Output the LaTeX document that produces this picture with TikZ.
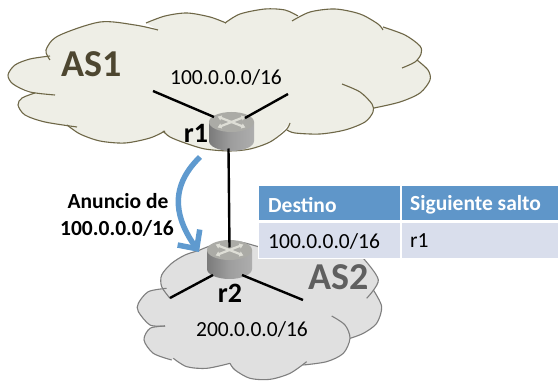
\documentclass[tikz,border=0pt]{standalone}
\usepackage{fontspec}
\setmainfont{Carlito}
\usetikzlibrary{arrows.meta}
\definecolor{cloudA}{HTML}{EEEEE6}
\definecolor{edgeA}{HTML}{6E6747}
\definecolor{textA}{HTML}{4D4630}
\definecolor{cloudB}{HTML}{E0E0E0}
\definecolor{edgeB}{HTML}{7F7F7F}
\definecolor{textB}{HTML}{5F5F5F}
\definecolor{headblue}{HTML}{5F96C9}
\definecolor{rowblue}{HTML}{D9DEEC}
\definecolor{arrowblue}{HTML}{5F9ACF}
\definecolor{routertop}{HTML}{ABABA6}
\definecolor{routerx}{HTML}{DEDED6}
\tikzset{
  lineA/.style={draw=edgeA,line width=1.1pt},
  lineB/.style={draw=edgeB,line width=1.1pt},
  link/.style={draw=black,line width=2.4pt},
  routerbox/.style={inner sep=0pt,minimum width=45pt,minimum height=39pt},
  txt/.style={font=\fontsize{21.5}{24}\selectfont,text=black,inner sep=0pt},
  rname/.style={font=\fontsize{28}{30}\selectfont\bfseries,text=black,inner sep=0pt},
  asname/.style={font=\fontsize{38}{40}\selectfont\bfseries,inner sep=0pt},
  headcell/.style={fill=headblue,draw=none},
  rowcell/.style={fill=rowblue,draw=none},
  headtxt/.style={font=\fontsize{21.5}{24}\selectfont\bfseries,text=white,inner sep=0pt,anchor=west},
  rowtxt/.style={font=\fontsize{21.5}{24}\selectfont,text=black,inner sep=0pt,anchor=west},
  anntxt/.style={font=\fontsize{21.5}{24}\selectfont\bfseries,text=black,inner sep=0pt}
}
\newcommand{\routerart}[1]{%
  \begin{scope}[shift={(#1.center)}]
    \path[left color=black!52,right color=black!32,middle color=black!38]
      (-22.5,-9.5) -- (-22.5,9.5) arc[start angle=180,end angle=0,x radius=22.5,y radius=10]
      -- (22.5,-9.5) -- cycle;
    \path[fill=routertop] (0,-9.5) ellipse[x radius=22.5,y radius=10];
    \draw[routerx,line width=2.2pt,{Latex[length=4pt,width=6pt]}-{Latex[length=4pt,width=6pt]}]
      (-14,-15) -- (14,-4);
    \draw[routerx,line width=2.2pt,{Latex[length=4pt,width=6pt]}-{Latex[length=4pt,width=6pt]}]
      (14,-15) -- (-14,-4);
  \end{scope}}
\begin{document}
\begin{tikzpicture}[x=1pt,y=-1pt]
\useasboundingbox (0,0) rectangle (558,382);
\fill[white] (0,0) rectangle (558,382);

% AS1 cloud
\fill[cloudA] plot[smooth] coordinates {(50,60)(46,50)(58,36)(100,22)(135,25)(158,30)}
 -- plot[smooth] coordinates {(146,23)(165,16)(187,13)(210,17)(226,23)}
 -- plot[smooth] coordinates {(225,23)(240,14)(265,9)(285,10)(298,16)}
 -- plot[smooth] coordinates {(292,21)(310,12)(335,9)(360,14)(378,24)(383,30)}
 -- plot[smooth] coordinates {(383,27)(405,35)(420,46)(421,54)(415,62)}
 -- plot[smooth] coordinates {(417,60)(428,70)(430,80)(420,93)(400,102)(374,108)}
 -- plot[smooth] coordinates {(373,112)(365,122)(345,130)(320,134)(295,133)(287,130)}
 -- plot[smooth] coordinates {(288,125)(270,142)(250,149)(230,151)(205,149)(185,143)(170,137)(163,131)}
 -- plot[smooth] coordinates {(165,131)(150,138)(125,143)(100,141)(80,134)(67,125)}
 -- plot[smooth] coordinates {(65,125)(45,122)(25,115)(18,105)(22,98)(35,93)}
 -- plot[smooth] coordinates {(33,92)(13,84)(8,75)(15,65)(30,59)(50,56)} -- cycle;
\foreach \lobe in {
 {(50,60)(46,50)(58,36)(100,22)(135,25)(158,30)},
 {(146,23)(165,16)(187,13)(210,17)(226,23)},
 {(225,23)(240,14)(265,9)(285,10)(298,16)},
 {(292,21)(310,12)(335,9)(360,14)(378,24)(383,30)},
 {(383,27)(405,35)(420,46)(421,54)(415,62)(402,68)},
 {(417,60)(428,70)(430,80)(420,93)(400,102)(374,108)},
 {(342,84)(360,92)(372,104)(373,112)(365,122)(345,130)(320,134)(295,133)(287,130)},
 {(290,123)(286,130)(270,142)(250,149)(230,151)(205,149)(185,143)(170,137)(163,131)},
 {(165,131)(150,138)(125,143)(100,141)(80,134)(67,125)},
 {(77,127)(45,122)(25,115)(18,105)(22,98)(35,93)},
 {(55,95)(30,92)(13,84)(8,75)(15,65)(30,59)(50,56)}}
 {\edef\tmp{\noexpand\draw[lineA] plot[smooth] coordinates {\lobe};}\tmp}

% AS2 cloud
\begin{scope}[shift={(130,190)},x=.33333pt,y=-.33333pt]
\fill[cloudB] plot[smooth] coordinates {(120,325)(95,290)(95,255)(125,220)(165,195)(205,182)}
 -- plot[smooth] coordinates {(205,182)(250,165)(320,155)(385,170)(450,190)(520,190)(600,195)(700,205)}
 -- plot[smooth] coordinates {(700,205)(745,270)(730,300)}
 -- plot[smooth] coordinates {(730,300)(755,350)(740,400)(700,430)(660,445)}
 -- plot[smooth] coordinates {(660,445)(640,490)(590,515)(520,525)}
 -- plot[smooth] coordinates {(530,515)(480,550)(420,568)(360,565)(315,540)(300,520)}
 -- plot[smooth] coordinates {(300,520)(230,535)(170,530)(130,505)}
 -- plot[smooth] coordinates {(125,510)(70,490)(42,450)(60,415)(105,408)}
 -- plot[smooth] coordinates {(105,408)(60,405)(25,365)(25,340)(55,305)(110,295)} -- cycle;
\foreach \lobe in {
 {(120,325)(95,290)(95,255)(125,220)(165,195)(205,182)},
 {(205,182)(250,165)(320,155)(385,170)(450,190)(520,190)(600,195)(700,205)},
 {(700,205)(745,270)(710,325)},
 {(730,300)(755,350)(740,400)(700,430)(660,445)},
 {(605,378)(645,405)(660,445)(640,490)(590,515)(520,525)},
 {(530,515)(480,550)(420,568)(360,565)(315,540)(300,520)},
 {(300,520)(230,535)(170,530)(130,505)},
 {(125,510)(70,490)(42,450)(60,415)(105,408)},
 {(105,408)(60,405)(25,365)(25,340)(55,305)(110,295)}}
 {\edef\tmp{\noexpand\draw[lineB] plot[smooth] coordinates {\lobe};}\tmp}
\end{scope}

% routers
\node[routerbox] (R1) at (231.5,131.5) {};
\node[routerbox] (R2) at (229.5,259.5) {};
\coordinate (a1) at (153,91);
\coordinate (a2) at (288,94);
\coordinate (b1) at (170,298);
\coordinate (b2) at (303,300);
\coordinate (R1w) at (214,117);
\coordinate (R1e) at (245,118);
\coordinate (R2w) at (213,275);
\coordinate (R2e) at (242,275);
\routerart{R1}
\routerart{R2}
\coordinate (R1s) at ([xshift=-3pt,yshift=-17pt]R1.center);
\coordinate (R2n) at ([yshift=12pt]R2.center);
\draw[link] (a1) -- (R1w);
\draw[link] (a2) -- (R1e);
\draw[link] (b1) -- (R2w);
\draw[link] (b2) -- (R2e);
\draw[link] (R1s) -- (R2n);

% announcement arrow
\coordinate (arrS) at (200,157);
\coordinate (arrE) at (199,252);
\draw[arrowblue,line width=5.5pt,-{Straight Barb[length=14pt,width=27pt,line width=5.5pt]}]
  (arrS) .. controls (166,190) and (178,222) .. (arrE);

% labels
\node[asname,text=textA] (as1) at (92,64) {AS1};
\node[asname,text=textB] (as2) at (339,277) {AS2};
\node[txt] (n1) at (226,77) {100.0.0.0/16};
\node[txt] (n2) at (252,329) {200.0.0.0/16};
\node[rname] (l1) at (196,133) {r1};
\node[rname] (l2) at (230,293) {r2};
\node[anntxt] (ann1) at (118,201) {Anuncio de};
\node[anntxt] (ann2) at (117,228) {100.0.0.0/16};

% table
\fill[white] (258,185) rectangle (558,259);
\node[headcell,minimum width=141pt,minimum height=34pt,inner sep=0pt] (h1) at (329.5,203) {};
\node[headcell,minimum width=157pt,minimum height=34pt,inner sep=0pt] (h2) at (480,203) {};
\node[rowcell,minimum width=141pt,minimum height=35pt,inner sep=0pt] (c1) at (329.5,240.5) {};
\node[rowcell,minimum width=157pt,minimum height=35pt,inner sep=0pt] (c2) at (480,240.5) {};
\node[headtxt] at (268,205) {Destino};
\node[headtxt] at (410,205) {Siguiente salto};
\node[rowtxt] at (268,241) {100.0.0.0/16};
\node[rowtxt] at (410,241) {r1};
\end{tikzpicture}
\end{document}
